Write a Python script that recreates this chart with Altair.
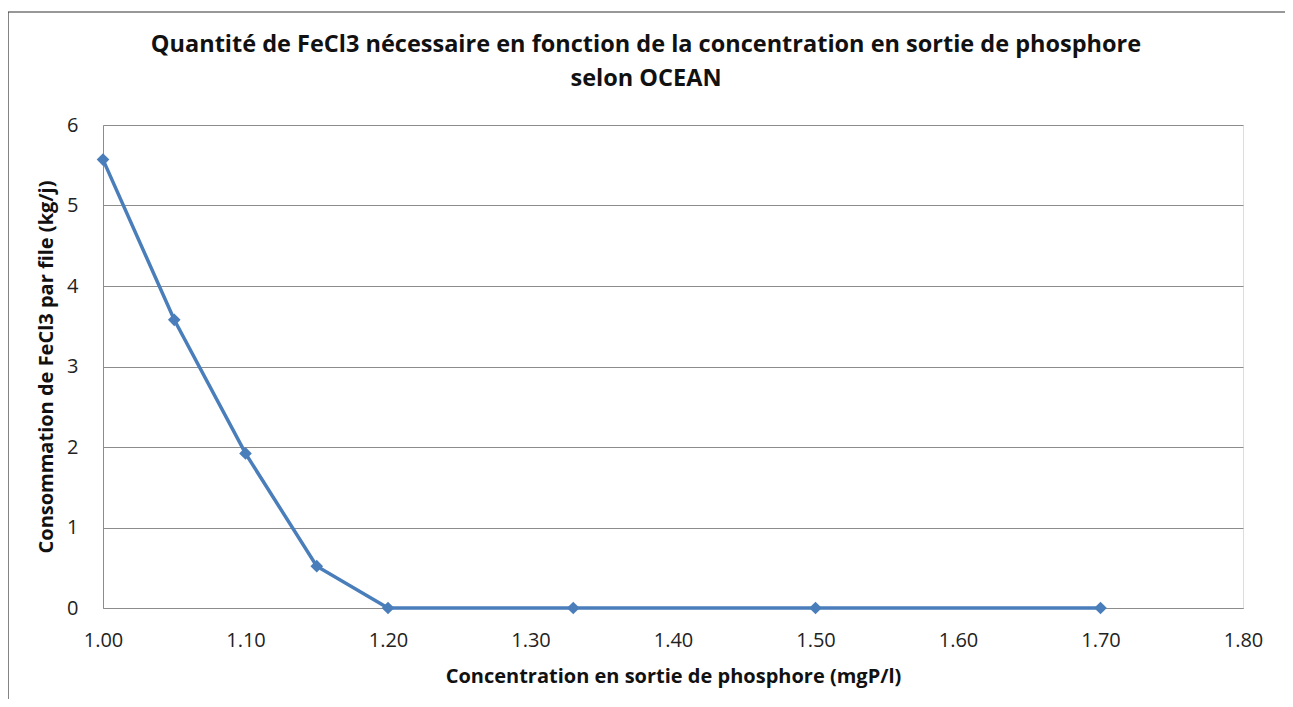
import altair as alt
import pandas as pd

concentration = [1.00, 1.05, 1.10, 1.15, 1.20, 1.33, 1.50, 1.70]
consommation = [5.57, 3.58, 1.92, 0.52, 0.0, 0.0, 0.0, 0.0]
x_ticks = [1.0, 1.1, 1.2, 1.3, 1.4, 1.5, 1.6, 1.7, 1.8]
y_ticks = [0, 1, 2, 3, 4, 5, 6]

title_text = ("Quantité de FeCl3 nécessaire en fonction de la concentration en sortie de phosphore"
              "\nselon OCEAN")
x_title = "Concentration en sortie de phosphore (mgP/l)"
y_title = "Consommation de FeCl3 par file (kg/j)"

df = pd.DataFrame({"x": concentration, "y": consommation})

FONT = "Open Sans"
BLUE = "#4a7ebb"
GRID = "#8c8c8c"

x_enc = alt.X("x:Q", scale=alt.Scale(domain=[1.0, 1.8], nice=False, zero=False),
              axis=alt.Axis(values=x_ticks, format=".2f", title=x_title, grid=False,
                            ticks=False, domain=True, domainColor=GRID, domainWidth=1,
                            labelFont=FONT, labelFontSize=20, labelColor="#222222",
                            labelPadding=22, titleFont=FONT, titleFontSize=20,
                            titleFontWeight="bold", titleColor="#111111", titlePadding=16,
                            labelFlush=False))
y_enc = alt.Y("y:Q", scale=alt.Scale(domain=[0, 6], nice=False),
              axis=alt.Axis(values=y_ticks, format="d", title=y_title, grid=True,
                            gridColor=GRID, gridWidth=1, ticks=False, domain=True,
                            domainColor=GRID, domainWidth=1,
                            labelFont=FONT, labelFontSize=20, labelColor="#222222",
                            labelPadding=25, titleFont=FONT, titleFontSize=20,
                            titleFontWeight="bold", titleColor="#111111", titlePadding=10))

line = alt.Chart(df).mark_line(color=BLUE, strokeWidth=3.5).encode(x=x_enc, y=y_enc)
points = alt.Chart(df).mark_point(shape="diamond", filled=True, color=BLUE, size=160,
                                  opacity=1).encode(x="x:Q", y="y:Q")

one = pd.DataFrame({"a": [0]})
border = alt.Chart(one).mark_rect(
    fill=None, stroke="#333333", strokeWidth=1.2).encode(
    x=alt.value(-95), x2=alt.value(1184), y=alt.value(-113), y2=alt.value(620))

title = alt.Chart(one).mark_text(
    font=FONT, fontSize=23.5, fontWeight="bold", color="#111111", align="center",
    baseline="alphabetic", lineBreak="\n", lineHeight=34).encode(
    x=alt.value(543), y=alt.value(-73), text=alt.value(title_text))

chart = alt.layer(border, line, points, title).properties(
    width=1140, height=483,
    padding={"left": 95, "top": 117, "right": 42, "bottom": 91},
    autosize=alt.AutoSizeParams(type="none"),
).configure_view(stroke=None).configure(background="white")

chart.save("out.html", embed_options={"renderer": "svg", "actions": False})
